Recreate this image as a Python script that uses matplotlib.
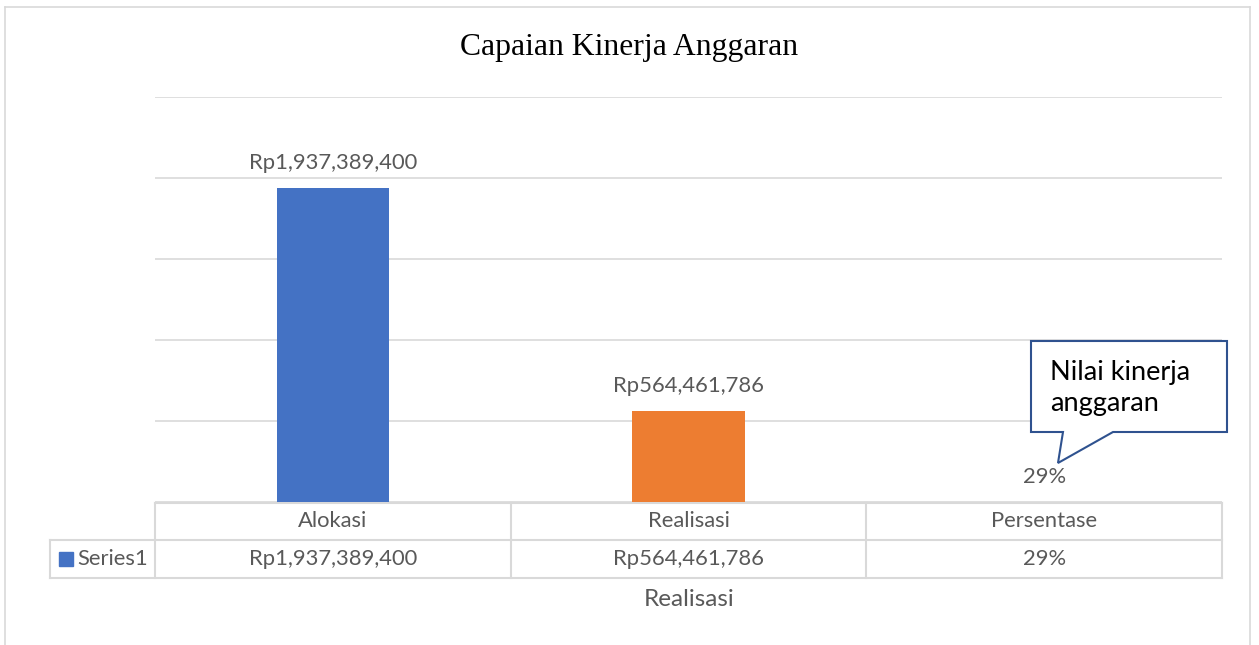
import matplotlib
matplotlib.use("Agg")
import matplotlib.pyplot as plt
from matplotlib.lines import Line2D
from matplotlib.patches import Polygon, Rectangle
import matplotlib.transforms as mtransforms

# data
categories = ["Alokasi", "Realisasi", "Persentase"]
values = [1937389400, 564461786, 0.29]
value_labels = ["Rp1,937,389,400", "Rp564,461,786", "29%"]
bar_colors = ["#4472C4", "#ED7D31", "#A5A5A5"]
series_name = "Series1"
title = "Capaian Kinerja Anggaran"
axis_title = "Realisasi"
callout_text = "Nilai kinerja\nanggaran"

W, H = 1259, 645
GRAY = "#595959"
GRID = "#D9D9D9"
SANS = ["Lato", "DejaVu Sans"]
FS = 15.8

fig = plt.figure(figsize=(W / 100, H / 100), dpi=100)


def fx(px):
    return px / W


def fy(py):
    return 1 - py / H


# figure border (top, left, right)
for xs, ys in [((5, 1250), (7, 7)), ((5, 5), (7, 645)), ((1250, 1250), (7, 645))]:
    fig.add_artist(Line2D([fx(x) for x in xs], [fy(y) for y in ys], color=GRID, lw=1.2))

ax = fig.add_axes([fx(155), fy(502), fx(1222) - fx(155), fy(97) - fy(502)])
x = range(len(categories))
ax.bar(x, values, width=0.315, color=bar_colors, zorder=3)
ax.set_xlim(-0.5, 2.5)
ax.set_ylim(0, 2.5e9)
ax.set_yticks([i * 5e8 for i in range(6)])
ax.grid(axis="y", color=GRID, lw=1.2, zorder=0)
ax.tick_params(left=False, bottom=False, labelleft=False, labelbottom=False)
for s in ax.spines.values():
    s.set_visible(False)

for i, (v, lab) in enumerate(zip(values, value_labels)):
    ax.annotate(lab, (i, v), xytext=(0, 18), textcoords="offset points",
                ha="center", va="center", color=GRAY, fontsize=FS, family=SANS)

fig.text(fx(629), fy(47), title, ha="center", va="center",
         fontsize=22.8, family="Liberation Serif", color="black")

# data table below the plot
tr = mtransforms.blended_transform_factory(ax.transData, fig.transFigure)
label_left = -0.795
y_top, y_mid, y_bot = fy(503), fy(540), fy(578)
tlines = [
    ((-0.5, 2.5), (y_top, y_top)),
    ((label_left, 2.5), (y_mid, y_mid)),
    ((label_left, 2.5), (y_bot, y_bot)),
    ((label_left, label_left), (y_mid, y_bot)),
]
for b in [-0.5, 0.5, 1.5, 2.5]:
    tlines.append(((b, b), (y_top, y_bot)))
for xs, ys in tlines:
    ax.add_line(Line2D(xs, ys, transform=tr, color=GRID, lw=1.5, clip_on=False))

for i, (c, lab) in enumerate(zip(categories, value_labels)):
    ax.text(i, fy(521), c, transform=tr, ha="center", va="center",
            color=GRAY, fontsize=FS, family=SANS)
    ax.text(i, fy(559), lab, transform=tr, ha="center", va="center",
            color=GRAY, fontsize=FS, family=SANS)

fig.add_artist(Rectangle((fx(59), fy(566)), fx(14), fy(552) - fy(566),
                         color=bar_colors[0], transform=fig.transFigure))
fig.text(fx(77), fy(559), series_name, ha="left", va="center",
         color=GRAY, fontsize=FS, family=SANS)

fig.text(fx(689), fy(600), axis_title, ha="center", va="center",
         color=GRAY, fontsize=17.5, family=SANS)

# callout
pts = [(1031, 341), (1227, 341), (1227, 432), (1113, 432), (1058, 463),
       (1063, 432), (1031, 432)]
fig.add_artist(Polygon([(fx(a), fy(b)) for a, b in pts], closed=True,
                       facecolor="white", edgecolor="#2F528F", lw=1.5,
                       transform=fig.transFigure))
fig.text(fx(1050), fy(388), callout_text, ha="left", va="center",
         color="black", fontsize=19.5, family=SANS, linespacing=1.3)

fig.savefig("out.png", dpi=100)
